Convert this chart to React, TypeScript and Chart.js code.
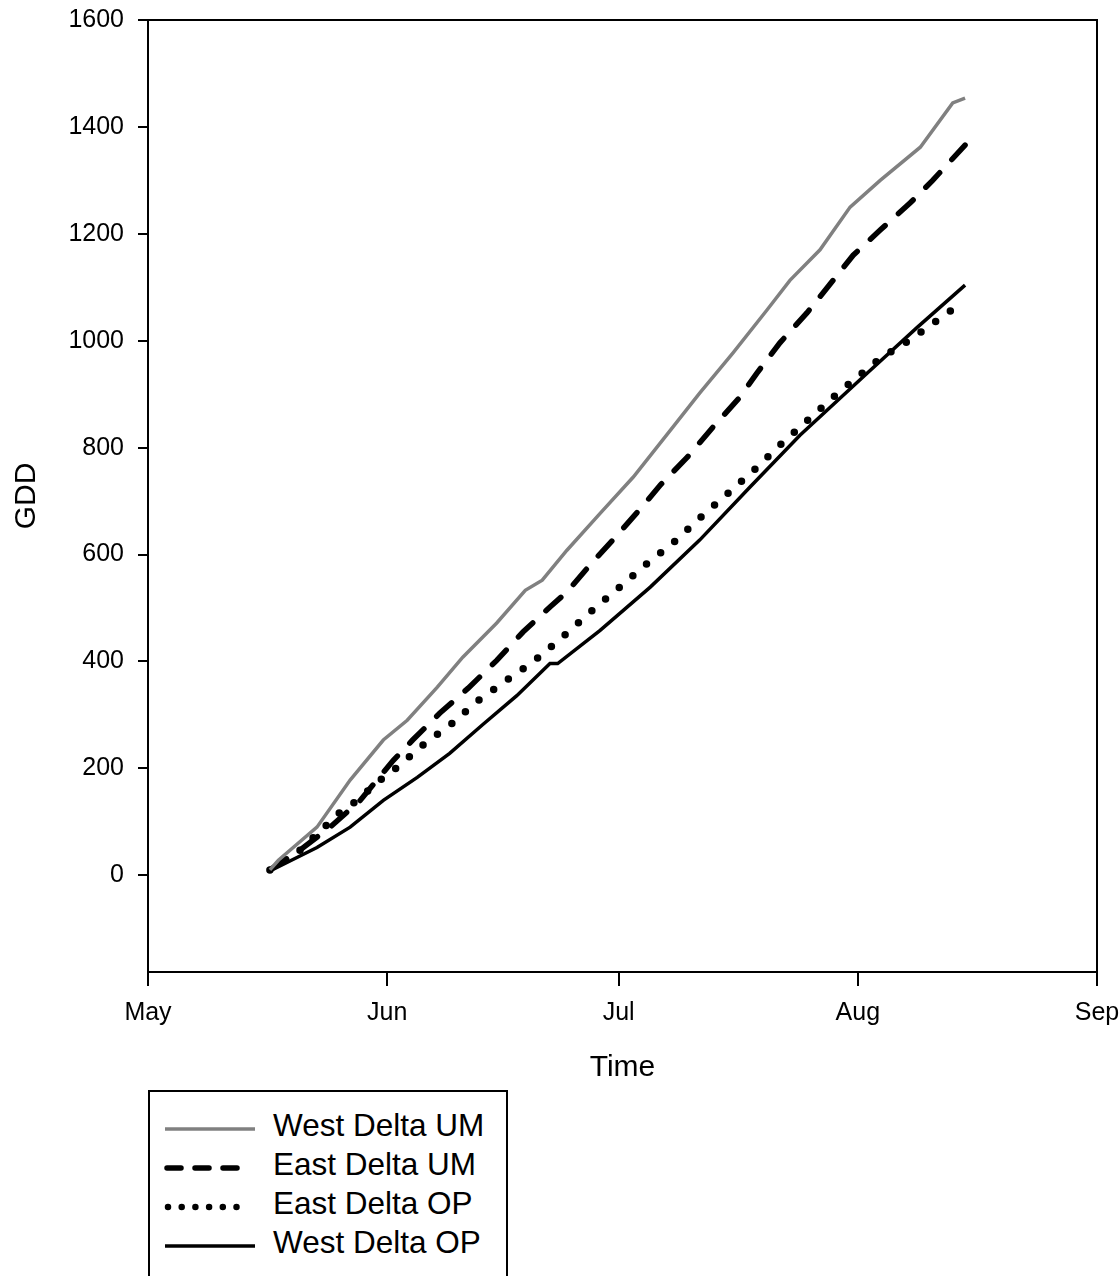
import React, { useEffect, useRef } from "react";
import { Chart, registerables } from "chart.js";

Chart.register(...registerables);

const FONT = "'Liberation Sans', Arial, Helvetica, sans-serif";

// x values are days after 1 May
const monthTicks = [0, 31, 61, 92, 123];
const monthLabels = ["May", "Jun", "Jul", "Aug", "Sep"];
const yTicks = [0, 200, 400, 600, 800, 1000, 1200, 1400, 1600];

const westUMDays = [15.8, 16.9, 21.9, 26.2, 30.5, 33.6, 37.5, 40.8, 45.2, 48.9, 51.1, 54.3, 58.6, 62.9, 68.0, 71.5, 75.8, 80.2, 83.2, 87.1, 91.0, 94.9, 100.1, 104.3, 105.9];
const westUM = [10, 28, 90, 178, 253, 290, 352, 408, 472, 533, 552, 608, 677, 745, 838, 902, 977, 1057, 1113, 1170, 1250, 1300, 1362, 1445, 1454];

const eastUMDays = [15.8, 19.7, 23.6, 27.5, 31.8, 34.3, 37.8, 41.5, 45.2, 48.6, 52.1, 54.3, 57.5, 60.8, 64.2, 66.4, 69.9, 73.2, 76.7, 78.9, 81.9, 85.4, 88.8, 91.4, 94.9, 98.8, 101.7, 105.9];
const eastUM = [10, 47, 90, 140, 215, 253, 303, 350, 402, 455, 502, 530, 584, 636, 692, 730, 782, 838, 894, 939, 996, 1052, 1113, 1160, 1207, 1258, 1300, 1366];

const eastOPDays = [15.8, 19.7, 24.9, 27.1, 30.1, 32.3, 35.6, 39.4, 42.8, 46.5, 49.9, 53.7, 57.3, 60.8, 64.4, 68.0, 71.5, 75.2, 78.7, 82.3, 84.1, 89.4, 94.9, 98.5, 102.0, 105.6];
const eastOP = [10, 47, 118, 140, 178, 202, 243, 284, 327, 365, 399, 445, 492, 535, 580, 621, 668, 715, 760, 810, 833, 902, 967, 999, 1035, 1072];

const westOPDays = [15.8, 21.9, 26.2, 30.5, 34.9, 39.1, 43.4, 47.8, 52.1, 53.1, 58.6, 65.1, 71.5, 78.0, 84.5, 93.2, 99.7, 105.9];
const westOP = [8, 52, 90, 140, 183, 228, 282, 336, 396, 396, 458, 539, 627, 726, 823, 939, 1025, 1104];

const seriesNames = ["West Delta UM", "East Delta UM", "East Delta OP", "West Delta OP"];

const pts = (xs: number[], ys: number[]) => xs.map((x, i) => ({ x, y: ys[i] }));

const framePlugin = {
  id: "frame",
  afterDraw(chart: any) {
    const { ctx, chartArea } = chart;
    const { left, top, right, bottom } = chartArea;
    ctx.save();
    ctx.strokeStyle = "#000";
    ctx.lineWidth = 2;
    ctx.strokeRect(left, top, right - left, bottom - top);
    ctx.restore();
  },
};

const zeroPad = (s: any) => {
  s.paddingLeft = 0;
  s.paddingRight = 0;
  s.paddingTop = 0;
  s.paddingBottom = 0;
};

export default function App() {
  const ref = useRef<HTMLCanvasElement | null>(null);

  useEffect(() => {
    if (!ref.current) return;
    const chart = new Chart(ref.current, {
      type: "line",
      data: {
        datasets: [
          {
            label: seriesNames[0],
            data: pts(westUMDays, westUM),
            borderColor: "#808080",
            borderWidth: 3.5,
            pointRadius: 0,
            tension: 0,
            fill: false,
          },
          {
            label: seriesNames[1],
            data: pts(eastUMDays, eastUM),
            borderColor: "#000",
            borderWidth: 5.5,
            borderDash: [20, 18],
            borderCapStyle: "round",
            pointRadius: 0,
            tension: 0,
            fill: false,
          },
          {
            label: seriesNames[2],
            data: pts(eastOPDays, eastOP),
            borderColor: "#000",
            borderWidth: 7.5,
            borderDash: [0, 18],
            borderCapStyle: "round",
            pointRadius: 0,
            tension: 0,
            fill: false,
          },
          {
            label: seriesNames[3],
            data: pts(westOPDays, westOP),
            borderColor: "#000",
            borderWidth: 3.5,
            pointRadius: 0,
            tension: 0,
            fill: false,
          },
        ],
      },
      options: {
        responsive: false,
        devicePixelRatio: 1,
        animation: false,
        layout: { padding: { left: 0, top: 20, right: 23, bottom: 0 } },
        plugins: { legend: { display: false }, tooltip: { enabled: false } },
        scales: {
          x: {
            type: "linear",
            min: 0,
            max: 123,
            afterBuildTicks: (s: any) => {
              s.ticks = monthTicks.map((v) => ({ value: v }));
            },
            afterFit: (s: any) => {
              s.height = 118;
              zeroPad(s);
            },
            ticks: {
              callback: (v: any) => monthLabels[monthTicks.indexOf(Number(v))],
              font: { family: FONT, size: 25 },
              color: "#000",
              padding: 12,
              maxRotation: 0,
              autoSkip: false,
            },
            grid: {
              display: true,
              drawOnChartArea: false,
              drawTicks: true,
              tickLength: 14,
              color: "#000",
              lineWidth: 2,
            },
            border: { display: true, color: "#000", width: 2 },
            title: {
              display: true,
              text: "Time",
              font: { family: FONT, size: 30 },
              color: "#000",
              padding: { top: 0, bottom: 4 },
            },
          },
          y: {
            type: "linear",
            min: -181,
            max: 1600,
            afterBuildTicks: (s: any) => {
              s.ticks = yTicks.map((v) => ({ value: v }));
            },
            afterFit: (s: any) => {
              s.width = 148;
              zeroPad(s);
            },
            ticks: {
              callback: (v: any) => String(v),
              font: { family: FONT, size: 25 },
              color: "#000",
              padding: 14,
            },
            grid: {
              display: true,
              drawOnChartArea: false,
              drawTicks: true,
              tickLength: 10,
              color: "#000",
              lineWidth: 2,
            },
            border: { display: true, color: "#000", width: 2 },
            title: {
              display: true,
              text: "GDD",
              font: { family: FONT, size: 30 },
              color: "#000",
              padding: { top: 9, bottom: 0 },
            },
          },
        },
      },
      plugins: [framePlugin],
    } as any);
    return () => chart.destroy();
  }, []);

  const rowCenters = [37, 76, 115, 154];
  const textStyle: React.CSSProperties = {
    position: "absolute",
    left: 123,
    height: 39,
    lineHeight: "39px",
    fontFamily: FONT,
    fontSize: 31.5,
    color: "#000",
    whiteSpace: "nowrap",
  };

  return (
    <div
      style={{
        position: "absolute",
        left: 0,
        top: 0,
        width: 1120,
        height: 1276,
        overflow: "hidden",
        background: "#fff",
      }}
    >
      <canvas ref={ref} width={1120} height={1090} style={{ display: "block" }} />
      <div
        style={{
          position: "absolute",
          left: 148,
          top: 1090,
          width: 360,
          height: 240,
          border: "2px solid #000",
          boxSizing: "border-box",
        }}
      >
        <svg
          width={120}
          height={200}
          style={{ position: "absolute", left: 0, top: 0 }}
        >
          <line x1={15} x2={105} y1={rowCenters[0]} y2={rowCenters[0]} stroke="#808080" strokeWidth={3.5} />
          <line
            x1={17}
            x2={90}
            y1={rowCenters[1]}
            y2={rowCenters[1]}
            stroke="#000"
            strokeWidth={5.5}
            strokeLinecap="round"
            strokeDasharray="14 14"
          />
          <line
            x1={18}
            x2={100}
            y1={rowCenters[2]}
            y2={rowCenters[2]}
            stroke="#000"
            strokeWidth={6.5}
            strokeLinecap="round"
            strokeDasharray="0 13.7"
          />
          <line x1={15} x2={105} y1={rowCenters[3]} y2={rowCenters[3]} stroke="#000" strokeWidth={3.5} />
        </svg>
        {seriesNames.map((n, i) => (
          <div key={n} style={{ ...textStyle, top: rowCenters[i] - 4 - 19.5 }}>
            {n}
          </div>
        ))}
      </div>
    </div>
  );
}
